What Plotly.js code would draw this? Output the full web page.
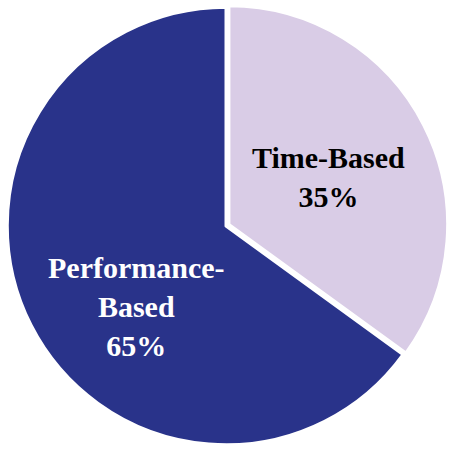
<!DOCTYPE html>
<html><head><meta charset="utf-8">
<script src="https://cdn.plot.ly/plotly-3.0.1.min.js"></script>
<style>html,body{margin:0;padding:0;background:#fff}</style>
</head><body>
<div id="chart" style="width:452px;height:452px"></div>
<script>
const labels = ["Time-Based", "Performance-Based"];
const displayLabels = ["Time-Based", "Performance-<br>Based"];
const values = [35, 65];
const colors = ["#D9CCE6", "#29338A"];
const textColors = ["#000000", "#FFFFFF"];

const data = [{
  type: "pie",
  labels: labels,
  values: values,
  sort: false,
  direction: "clockwise",
  rotation: 0,
  pull: [0.015, 0],
  marker: {colors: colors, line: {color: "#FFFFFF", width: 3}},
  textinfo: "none",
  hoverinfo: "none",
  showlegend: false
}];

const total = values.reduce((a,b)=>a+b,0);
const annPos = [[330/452, 1-176/452], [135/452, 1-308/452]];
const annotations = labels.map((l,i)=>({
  xref: "paper", yref: "paper",
  x: annPos[i][0], y: annPos[i][1],
  xanchor: "center", yanchor: "middle",
  showarrow: false,
  text: displayLabels[i] + "<br>" + Math.round(values[i]/total*100) + "%",
  font: {family: "Liberation Serif, Times New Roman, serif", size: 30, color: textColors[i], weight: "bold"}
}));

const layout = {
  width: 452, height: 452,
  margin: {l: 4, r: 4, t: 4, b: 4},
  paper_bgcolor: "#FFFFFF",
  annotations: annotations
};
Plotly.newPlot("chart", data, layout, {displayModeBar: false, staticPlot: true});
</script>
</body></html>
